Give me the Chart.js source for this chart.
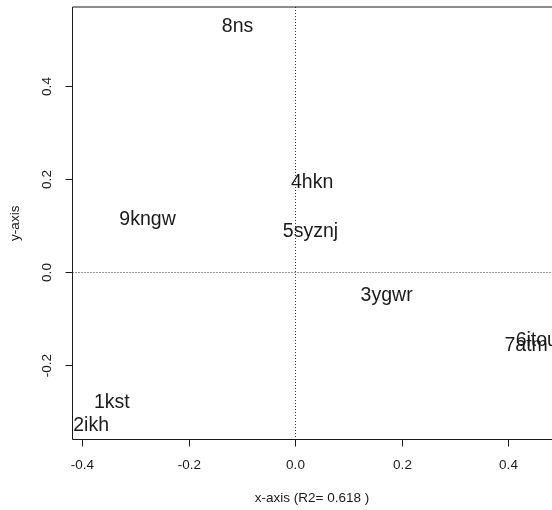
<!DOCTYPE html>
<html><head><meta charset="utf-8">
<script src="https://cdn.jsdelivr.net/npm/chart.js@4/dist/chart.umd.min.js"></script>
<style>html,body{margin:0;padding:0;background:#fff;}#wrap{width:552px;height:510px;}</style>
</head><body><div id="wrap"><canvas id="c" width="552" height="510"></canvas></div>
<script>
const labels = ['1kst','2ikh','3ygwr','4hkn','5syznj','6itou','7atm','8ns','9kngw'];
const xValues = [-0.344,-0.383,0.172,0.032,0.029,0.454,0.434,-0.108,-0.277];
const yValues = [-0.278,-0.327,-0.047,0.196,0.090,-0.144,-0.155,0.533,0.116];
const xTicks = [-0.4,-0.2,0.0,0.2,0.4];
const yTicks = [-0.2,0.0,0.2,0.4];
const xTitle = 'x-axis (R2= 0.618 )';
const yTitle = 'y-axis';

const FONT = '"Liberation Sans", Arial, sans-serif';
const INK = '#1a1a1a';
const TICK_FS = 13.5;
const LABEL_FS = 19.5;

const rPlot = {
  id: 'rPlot',
  afterDraw(chart) {
    const ctx = chart.ctx;
    const xs = chart.scales.x, ys = chart.scales.y;
    const L = Math.round(xs.left) + 0.5, R = xs.right, T = ys.top, B = Math.round(ys.bottom) + 0.5;
    ctx.save();
    // dotted reference lines
    ctx.strokeStyle = '#333';
    ctx.lineWidth = 1;
    ctx.setLineDash([1, 2]);
    const x0 = Math.round(xs.getPixelForValue(0)) + 0.5;
    const y0 = Math.round(ys.getPixelForValue(0)) + 0.5;
    ctx.beginPath(); ctx.moveTo(x0, T); ctx.lineTo(x0, B); ctx.stroke();
    ctx.beginPath(); ctx.moveTo(L, y0); ctx.lineTo(R, y0); ctx.stroke();
    ctx.setLineDash([]);
    // box
    ctx.strokeStyle = INK;
    ctx.beginPath();
    ctx.moveTo(R + 1, T); ctx.lineTo(L, T); ctx.lineTo(L, B); ctx.lineTo(R + 1, B);
    ctx.stroke();
    // x ticks
    ctx.fillStyle = INK;
    ctx.font = TICK_FS + 'px ' + FONT;
    ctx.textAlign = 'center';
    ctx.textBaseline = 'middle';
    xTicks.forEach(v => {
      const px = Math.round(xs.getPixelForValue(v)) + 0.5;
      ctx.beginPath(); ctx.moveTo(px, B); ctx.lineTo(px, B + 7); ctx.stroke();
      ctx.fillText(v.toFixed(1), px, 465);
    });
    // y ticks
    yTicks.forEach(v => {
      const py = Math.round(ys.getPixelForValue(v)) + 0.5;
      ctx.beginPath(); ctx.moveTo(L, py); ctx.lineTo(L - 7, py); ctx.stroke();
      ctx.save();
      ctx.translate(47, py);
      ctx.rotate(-Math.PI / 2);
      ctx.fillText(v.toFixed(1), 0, 0);
      ctx.restore();
    });
    // axis titles
    ctx.fillText(xTitle, 312, 498);
    ctx.save();
    ctx.translate(15, (T + B) / 2);
    ctx.rotate(-Math.PI / 2);
    ctx.fillText(yTitle, 0, 0);
    ctx.restore();
    // point labels
    ctx.font = LABEL_FS + 'px ' + FONT;
    ctx.textBaseline = 'alphabetic';
    const meta = chart.getDatasetMeta(0);
    meta.data.forEach((pt, i) => {
      ctx.fillText(labels[i], pt.x, pt.y + 0.358 * LABEL_FS);
    });
    ctx.restore();
  }
};

new Chart(document.getElementById('c'), {
  type: 'scatter',
  data: {
    datasets: [{
      data: xValues.map((x, i) => ({ x: x, y: yValues[i] })),
      pointRadius: 0,
      pointHoverRadius: 0
    }]
  },
  options: {
    responsive: false,
    devicePixelRatio: 1,
    animation: false,
    events: [],
    layout: { padding: { left: 72, top: 7, right: 0, bottom: 71.5 } },
    plugins: { legend: { display: false }, tooltip: { enabled: false } },
    scales: {
      x: { type: 'linear', min: -0.4189, max: 0.4826, display: false },
      y: { type: 'linear', min: -0.3585, max: 0.571, display: false }
    }
  },
  plugins: [rPlot]
});
</script>
</body></html>
